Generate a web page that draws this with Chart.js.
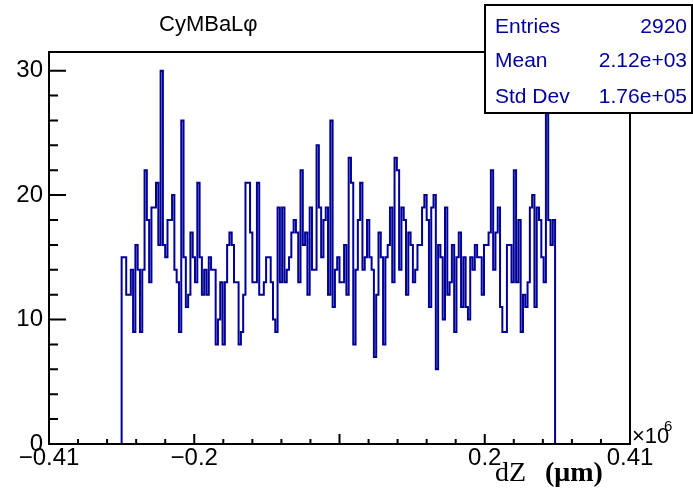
<!DOCTYPE html>
<html>
<head>
<meta charset="utf-8">
<script src="https://cdn.jsdelivr.net/npm/chart.js@4.4.1/dist/chart.umd.min.js"></script>
<style>
  html, body { margin: 0; padding: 0; background: #fff; }
  #wrap { width: 693px; height: 497px; }
</style>
</head>
<body>
<div id="wrap"><canvas id="hist" width="693" height="497"></canvas></div>
<script>
// dZ histogram, 190 bins from -0.3 to 0.3 (units of 10^6 um)
const binLow = -0.3;
const binHigh = 0.3;
const counts = [
  9, 15, 15, 12, 12, 14, 9, 16, 14, 9, 14, 22, 18, 13, 19, 19, 21, 16, 30, 16,
  15, 18, 18, 20, 14, 13, 9, 26, 15, 11, 12, 17, 15, 13, 21, 15, 12, 14, 12, 15,
  14, 14, 8, 10, 13, 8, 13, 16, 17, 16, 13, 13, 8, 9, 12, 21, 21, 17, 13, 13,
  21, 12, 12, 13, 15, 15, 13, 10, 9, 19, 13, 19, 13, 14, 15, 17, 18, 17, 13, 22,
  16, 17, 12, 19, 14, 14, 24, 19, 15, 18, 19, 12, 26, 11, 14, 15, 13, 13, 16, 12,
  23, 21, 8, 14, 18, 21, 14, 15, 18, 15, 14, 7, 12, 17, 15, 8, 15, 16, 19, 13,
  23, 22, 14, 19, 18, 12, 17, 16, 13, 14, 16, 16, 19, 20, 18, 11, 19, 20, 6, 16,
  15, 10, 19, 12, 13, 16, 9, 15, 17, 11, 15, 11, 10, 15, 14, 16, 15, 15, 12, 16,
  16, 17, 22, 14, 17, 19, 11, 9, 9, 16, 16, 13, 22, 13, 18, 9, 12, 11, 13, 19,
  20, 11, 19, 18, 15, 13, 27, 18, 16, 18
];

const xTickValues = [-0.4, -0.2, 0.2, 0.4];
const xTickLabels = ["\u22120.41", "\u22120.2", "0.2", "0.41"];
const yTickValues = [0, 10, 20, 30];
const yTickLabels = ["0", "10", "20", "30"];

const histTitle = "CyMBaL\u03c6";
const statNames = ["Entries", "Mean", "Std Dev"];
const statValues = ["2920", "2.12e+03", "1.76e+05"];

const lineBlue = "#000099";
const sans = "'Liberation Sans', Arial, Helvetica, sans-serif";
const serif = "'Liberation Serif', 'Times New Roman', serif";

// step outline of the histogram
const binWidth = (binHigh - binLow) / counts.length;
const outline = [{ x: binLow, y: 0 }];
counts.forEach((c, i) => outline.push({ x: binLow + i * binWidth, y: c }));
outline.push({ x: binHigh, y: 0 });

// frame, inward ticks and the extra texts, drawn the ROOT way
const rootFrame = {
    id: "rootFrame",
    afterDatasetsDraw(chart) {
        const { ctx, chartArea: a, scales: { x, y } } = chart;
        ctx.save();
        ctx.strokeStyle = "#000";
        ctx.lineWidth = 2;
        ctx.strokeRect(a.left, a.top, a.right - a.left, a.bottom - a.top);

        ctx.beginPath();
        // x ticks every 0.04, major every 0.2
        for (let k = -9; k <= 9; k++) {
            const px = x.getPixelForValue(k * 0.04);
            const len = (k % 5 === 0) ? 10 : 5;
            ctx.moveTo(px, a.bottom);
            ctx.lineTo(px, a.bottom - len);
        }
        // y ticks every 2, major every 10
        for (let v = 2; v <= 30; v += 2) {
            const py = y.getPixelForValue(v);
            const len = (v % 10 === 0) ? 17 : 9;
            ctx.moveTo(a.left, py);
            ctx.lineTo(a.left + len, py);
        }
        ctx.stroke();
        ctx.restore();
    },
    afterDraw(chart) {
        const ctx = chart.ctx;
        ctx.save();
        ctx.textBaseline = "alphabetic";

        // title
        ctx.fillStyle = "#000";
        ctx.font = "22px " + sans;
        ctx.textAlign = "left";
        ctx.fillText(histTitle, 159, 31);

        // stats box
        ctx.fillStyle = "#fff";
        ctx.fillRect(485, 5, 207, 108);
        ctx.strokeStyle = "#000";
        ctx.lineWidth = 2;
        ctx.strokeRect(485, 5, 207, 108);
        ctx.fillStyle = lineBlue;
        ctx.font = "21px " + sans;
        const rows = [33, 67, 103];
        statNames.forEach((name, i) => {
            ctx.textAlign = "left";
            ctx.fillText(name, 495, rows[i]);
            ctx.textAlign = "right";
            ctx.fillText(statValues[i], 687, rows[i]);
        });

        // exponent
        ctx.fillStyle = "#000";
        ctx.textAlign = "left";
        ctx.font = "22px " + sans;
        ctx.fillText("\u00d710", 632, 443);
        ctx.font = "15px " + sans;
        ctx.fillText("6", 664, 431);

        // axis title
        ctx.font = "28px " + serif;
        ctx.fillText("dZ", 495, 481);
        ctx.font = "bold 28px " + serif;
        ctx.fillText("(\u03bcm)", 545, 481);
        ctx.restore();
    }
};

new Chart(document.getElementById("hist"), {
    type: "line",
    data: {
        datasets: [{
            data: outline,
            stepped: "after",
            borderColor: lineBlue,
            borderWidth: 2,
            pointRadius: 0,
            fill: false
        }]
    },
    options: {
        responsive: false,
        animation: false,
        devicePixelRatio: 1,
        layout: { padding: { top: 52, right: 63, bottom: 0, left: 0 } },
        plugins: {
            legend: { display: false },
            tooltip: { enabled: false }
        },
        scales: {
            x: {
                type: "linear",
                min: -0.4,
                max: 0.4,
                grid: { display: false, drawTicks: false },
                border: { display: false },
                afterBuildTicks: (s) => { s.ticks = xTickValues.map(v => ({ value: v })); },
                afterFit: (s) => { s.height = 53; },
                ticks: {
                    autoSkip: false,
                    maxRotation: 0,
                    padding: 0,
                    color: "#000",
                    font: { family: sans, size: 24 },
                    callback: (v, i) => xTickLabels[i]
                }
            },
            y: {
                min: 0,
                max: 31.5,
                grid: { display: false, drawTicks: false },
                border: { display: false },
                afterBuildTicks: (s) => { s.ticks = yTickValues.map(v => ({ value: v })); },
                afterFit: (s) => { s.width = 49; },
                ticks: {
                    padding: 6,
                    color: "#000",
                    font: { family: sans, size: 24 },
                    callback: (v, i) => yTickLabels[i]
                }
            }
        }
    },
    plugins: [rootFrame]
});
</script>
</body>
</html>
